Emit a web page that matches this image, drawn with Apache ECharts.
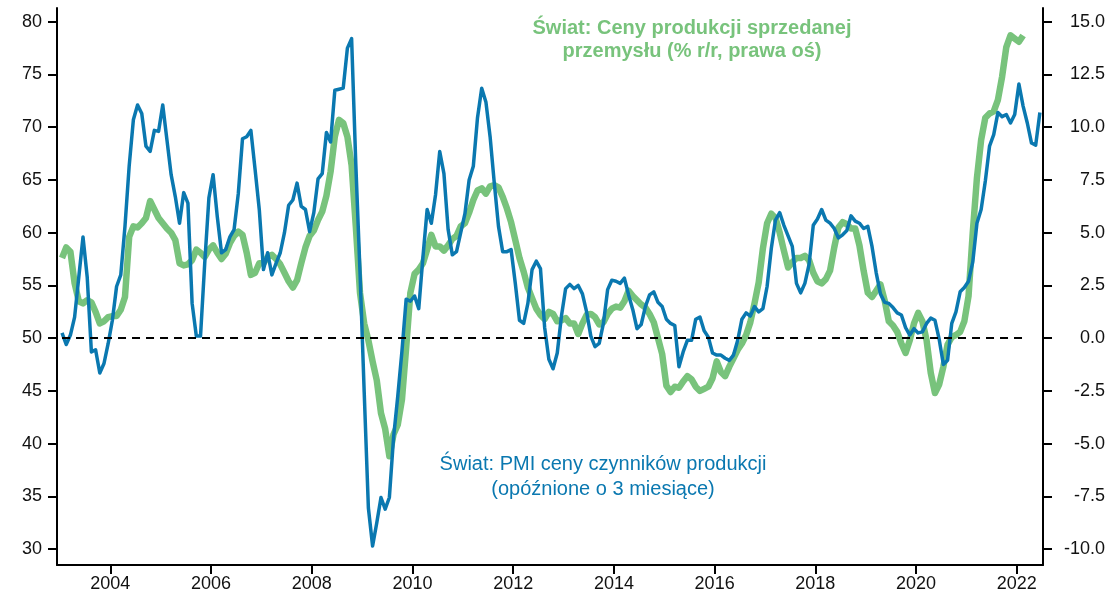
<!DOCTYPE html>
<html>
<head>
<meta charset="utf-8">
<script src="https://cdn.jsdelivr.net/npm/echarts@6/dist/echarts.min.js"></script>
<style>
  html, body { margin: 0; padding: 0; background: #fff; }
  #main { width: 1112px; height: 600px; }
</style>
</head>
<body>
<div id="main"></div>
<script>
// miesięczne dane od stycznia 2003
var startYear = 2003;

// Świat: PMI ceny czynników produkcji (opóźnione o 3 miesiące), lewa oś
var pmiInput = [
  50.5, 49.4, 50.3, 52.0, 55.8, 59.6, 55.8, 48.7, 48.9, 46.7, 47.6, 49.5,
  51.7, 54.9, 56.0, 60.6, 66.3, 70.7, 72.1, 71.3, 68.2, 67.7, 69.7, 69.6,
  72.1, 68.8, 65.5, 63.4, 60.9, 63.8, 62.8, 53.3, 50.2, 50.2, 57.1, 63.3,
  65.5, 61.5, 58.1, 58.4, 59.6, 60.3, 63.7, 68.9, 69.1, 69.7, 66.0, 62.2,
  56.5, 58.1, 56.0, 57.1, 58.1, 60.0, 62.6, 63.1, 64.7, 62.5, 62.2, 60.1,
  61.9, 65.1, 65.6, 69.5, 68.6, 73.5, 73.6, 73.7, 77.5, 78.4, 66.5, 56.3,
  44.9, 33.9, 30.3, 32.5, 34.9, 33.8, 34.9, 40.6, 44.5, 48.8, 53.7, 53.5,
  54.0, 52.8, 57.7, 62.2, 60.9, 63.6, 67.7, 65.6, 60.3, 57.9, 58.2, 60.0,
  61.8, 65.0, 66.3, 70.9, 73.7, 72.4, 69.1, 64.7, 60.6, 58.2, 58.2, 58.4,
  55.2, 51.7, 51.4, 53.3, 56.5, 57.3, 56.6, 51.0, 48.0, 47.1, 48.6, 52.1,
  54.7, 55.1, 54.7, 55.0, 54.2, 52.5, 50.2, 49.2, 49.5, 51.4, 54.6, 55.5,
  55.4, 55.2, 55.7, 54.1, 52.7, 50.9, 51.3, 53.0, 54.1, 54.4, 53.4, 53.0,
  51.8, 51.4, 51.2, 47.3, 48.7, 49.8, 49.8, 51.8, 52.0, 50.7, 50.1, 48.6,
  48.4, 48.4, 48.1, 47.9, 48.4, 49.8, 51.8, 52.4, 52.1, 53.0, 52.5, 52.8,
  54.9, 58.5, 61.2, 61.9, 60.7, 59.7, 58.7, 55.2, 54.3, 55.2, 57.0, 60.7,
  61.3, 62.2, 61.2, 60.9, 60.4, 59.5, 59.8, 60.2, 61.6, 61.1, 60.9, 60.4,
  60.6, 58.7, 56.2, 54.2, 53.4, 53.3, 52.9, 52.4, 52.2, 51.0, 50.3, 50.9,
  50.5, 50.6, 51.4, 51.9, 51.7, 49.9, 47.5, 47.9, 51.4, 52.5, 54.4, 54.8,
  55.4, 57.2, 60.9, 62.2, 64.9, 68.2, 69.3, 71.4, 71.0, 71.2, 70.4, 71.2,
  74.1, 72.0, 70.4, 68.5, 68.3, 71.4
];

// Świat: Ceny produkcji sprzedanej przemysłu (% r/r), prawa oś
var ppi = [
  3.8, 4.3, 4.1, 2.6, 1.75, 1.65, 1.8, 1.7, 1.25, 0.7, 0.8, 1.0,
  1.05, 1.05, 1.35, 1.95, 4.8, 5.3, 5.25, 5.45, 5.7, 6.5, 6.1, 5.7,
  5.45, 5.2, 5.0, 4.65, 3.55, 3.45, 3.5, 3.7, 4.2, 4.05, 3.85, 4.2,
  4.4, 4.05, 3.75, 4.0, 4.5, 4.85, 5.05, 4.9, 4.05, 3.0, 3.1, 3.55,
  3.55, 3.85, 3.95, 3.75, 3.5, 3.1, 2.7, 2.4, 2.75, 3.55, 4.3, 4.85,
  5.1, 5.6, 6.0, 6.75, 7.9, 9.55, 10.35, 10.2, 9.55, 8.2, 5.3, 2.15,
  0.7, -0.1, -1.1, -2.0, -3.55, -4.3, -5.6, -4.55, -4.1, -2.9, -0.45, 2.15,
  3.05, 3.25, 3.55, 4.2, 4.9, 4.35, 4.35, 4.15, 4.4, 4.7, 4.85, 5.3,
  5.45, 5.95, 6.55, 7.0, 7.1, 6.85, 7.2, 7.25, 7.15, 6.7, 6.15, 5.5,
  4.65, 3.8, 3.15, 2.4, 1.9, 1.4, 1.1, 0.9, 1.25, 1.15, 0.8, 0.85,
  0.95, 0.7, 0.7, 0.2, 0.7, 1.1, 1.15, 1.0, 0.65, 0.75, 1.15, 1.4,
  1.5, 1.45, 1.75, 2.25, 2.0, 1.8, 1.6, 1.45, 1.15, 0.75, 0.0, -0.75,
  -2.25, -2.55, -2.3, -2.35, -2.05, -1.8, -1.95, -2.3, -2.5, -2.4, -2.3, -1.9,
  -1.1, -1.6, -1.8, -1.35, -0.95, -0.55, -0.25, 0.15, 0.75, 1.65, 2.65, 4.25,
  5.45, 5.9, 5.7, 5.0, 4.15, 3.35, 3.6, 3.8, 3.8, 3.9, 3.7, 3.1,
  2.7, 2.6, 2.8, 3.2, 4.3, 5.25, 5.5, 5.4, 5.2, 5.2, 4.4, 3.2,
  2.15, 1.95, 2.25, 2.55, 1.8, 0.8, 0.6, 0.3, -0.25, -0.7, -0.1, 0.7,
  1.2, 0.8, -0.1, -1.65, -2.6, -2.2, -1.35, -0.3, 0.05, 0.15, 0.3, 0.8,
  2.0, 5.0, 7.6, 9.4, 10.45, 10.65, 10.75, 11.3, 12.4, 13.8, 14.35, 14.2,
  14.05, 14.35
];

var yearTicks = [2004, 2006, 2008, 2010, 2012, 2014, 2016, 2018, 2020, 2022];
var leftTicks = [30, 35, 40, 45, 50, 55, 60, 65, 70, 75, 80];
var rightTicks = [-10, -7.5, -5, -2.5, 0, 2.5, 5, 7.5, 10, 12.5, 15];
var refLevel = 50;

var blueColor = '#0a78b0';
var greenColor = '#78c37c';
var font = '"Liberation Sans", Arial, sans-serif';

// środek miesiąca jako ułamek roku
function monthX (i) {
  return startYear + (i + 0.5) / 12;
}

var pmiData = pmiInput.map(function (v, i) { return [monthX(i), v]; });
var ppiData = ppi.map(function (v, i) { return [monthX(i), v]; });

var chart = echarts.init(document.getElementById('main'));

var axisCommon = {
  axisLine: { show: true, onZero: false, lineStyle: { color: '#000', width: 2 } },
  splitLine: { show: false }
};

chart.setOption({
  animation: false,
  textStyle: { fontFamily: font },
  grid: { left: 57, right: 69, top: 8, bottom: 35 },
  xAxis: Object.assign({}, axisCommon, {
    type: 'value',
    min: 2002.942,
    max: 2022.52,
    axisTick: { show: true, length: 9, lineStyle: { color: '#000', width: 2 }, customValues: yearTicks },
    axisLabel: {
      customValues: yearTicks,
      margin: 10,
      fontSize: 18,
      color: '#111',
      fontFamily: font,
      formatter: function (v) { return String(Math.round(v)); }
    }
  }),
  yAxis: [
    Object.assign({}, axisCommon, {
      type: 'value',
      position: 'left',
      min: 28.5,
      max: 81.3,
      axisTick: { show: true, length: 9, lineStyle: { color: '#000', width: 2 }, customValues: leftTicks },
      axisLabel: {
        customValues: leftTicks,
        margin: 15,
        fontSize: 18,
        color: '#111',
        fontFamily: font
      }
    }),
    Object.assign({}, axisCommon, {
      type: 'value',
      position: 'right',
      min: -10.75,
      max: 15.65,
      axisTick: { show: true, length: 9, lineStyle: { color: '#000', width: 2 }, customValues: rightTicks },
      axisLabel: {
        customValues: rightTicks,
        margin: 62,
        align: 'right',
        fontSize: 18,
        color: '#111',
        fontFamily: font,
        formatter: function (v) { return v.toFixed(1); }
      }
    })
  ],
  series: [
    {
      name: 'Świat: Ceny produkcji sprzedanej przemysłu (% r/r, prawa oś)',
      type: 'line',
      yAxisIndex: 1,
      data: ppiData,
      showSymbol: false,
      lineStyle: { color: greenColor, width: 6.5, join: 'round' },
      z: 2
    },
    {
      name: 'Świat: PMI ceny czynników produkcji (opóźnione o 3 miesiące)',
      type: 'line',
      yAxisIndex: 0,
      data: pmiData,
      showSymbol: false,
      lineStyle: { color: blueColor, width: 3.5, join: 'round' },
      z: 3,
      markLine: {
        silent: true,
        symbol: 'none',
        label: { show: false },
        lineStyle: { color: '#000', width: 2, type: [8, 6] },
        data: [[
          { coord: [monthX(0), refLevel] },
          { coord: [monthX(230), refLevel] }
        ]]
      }
    }
  ],
  graphic: [
    {
      type: 'text',
      style: {
        text: 'Świat: Ceny produkcji sprzedanej\nprzemysłu (% r/r, prawa oś)',
        x: 692, y: 17,
        textAlign: 'center',
        fill: greenColor,
        font: 'bold 20px ' + font,
        lineHeight: 23
      }
    },
    {
      type: 'text',
      style: {
        text: 'Świat: PMI ceny czynników produkcji\n(opóźnione o 3 miesiące)',
        x: 603, y: 452,
        textAlign: 'center',
        fill: blueColor,
        font: '20px ' + font,
        lineHeight: 25
      }
    }
  ]
});
</script>
</body>
</html>
